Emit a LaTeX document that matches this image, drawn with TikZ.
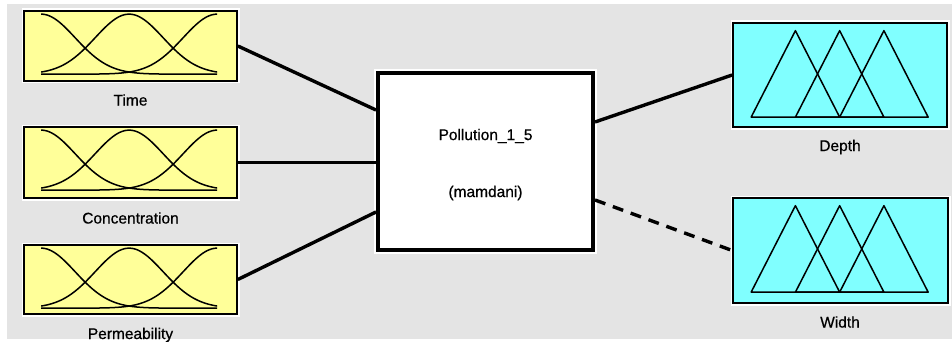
\documentclass[tikz,border=0pt]{standalone}
\usepackage{fontspec}
\setmainfont[FakeBold=0.6]{Liberation Sans}
\usetikzlibrary{calc}
\definecolor{bggray}{HTML}{E4E4E4}
\definecolor{mfyellow}{HTML}{FFFF99}
\definecolor{mfcyan}{HTML}{80FFFF}

\begin{document}
\begin{tikzpicture}[x=1pt,y=-1pt,
  varbox/.style={draw=black, line width=1.7pt,
    preaction={draw=white, line width=5pt}, inner sep=0pt,
    minimum width=213pt},
  inbox/.style={varbox, fill=mfyellow, minimum height=70pt},
  outbox/.style={varbox, fill=mfcyan, minimum width=214pt, minimum height=104pt},
  sysbox/.style={draw=black, fill=white, line width=4pt,
    preaction={draw=white, line width=8pt},
    minimum width=215pt, minimum height=177pt, inner sep=0pt},
  lbl/.style={font=\fontsize{15.5}{18}\selectfont, inner sep=0pt},
  mf/.style={line width=1.5pt, line join=round},
  link/.style={line width=3.4pt},
]
% canvas
\useasboundingbox (0,0) rectangle (952,342);
\fill[white] (0,0) rectangle (952,342);
\fill[bggray] (7,4) rectangle (952,339);

% input variables
\node[inbox] (time) at (130.5,46) {};
\node[inbox, minimum height=71pt] (conc) at (130.5,162.5) {};
\node[inbox, minimum height=69pt] (perm) at (130.5,279.5) {};
% fuzzy inference system
\node[sysbox] (sys) at (485.5,161.5) {};
% output variables
\node[outbox] (depth) at (840,75) {};
\node[outbox, minimum height=105pt, minimum width=215pt] (width) at (840.5,250.5) {};

% labels
\node[lbl] (timelbl) at (130.5,100) {Time};
\node[lbl] (conclbl) at (130.5,218) {Concentration};
\node[lbl] (permlbl) at (130.5,335) {Permeability};
\node[lbl] (depthlbl) at (840,147) {Depth};
\node[lbl] (widthlbl) at (840,322) {Width};
\node[lbl] (sysname) at (485.5,136) {Pollution\_1\_5};
\node[lbl] (systype) at (485.5,193) {(mamdani)};

% gaussian membership functions of the inputs
\foreach \b in {time,conc,perm} {
  \begin{scope}[shift={(\b.north west)}]
    \foreach \cx in {18,106,194}
      \draw[mf] plot[domain=18:194, samples=90, smooth]
        (\x, {64-60*exp(-0.5*((\x-\cx)/34)^2)});
  \end{scope}
}

% triangular membership functions of the outputs
\foreach \b in {depth,width} {
  \begin{scope}[shift={(\b.north west)}]
    \draw[mf] (19,95) -- (63.25,8.5) -- (107.5,95) -- cycle;
    \draw[mf] (63.25,95) -- (107.5,8.5) -- (151.75,95) -- cycle;
    \draw[mf] (107.5,95) -- (151.75,8.5) -- (196,95) -- cycle;
  \end{scope}
}

% connections
\draw[link] (time.east) -- ($(sys.west)+(0,-51.5)$);
\draw[link] (conc.east) -- (conc.east -| sys.west);
\draw[link] (perm.east) -- ($(sys.west)+(0,50.5)$);
\draw[link] ($(sys.east)+(0,-39.5)$) -- (depth.west);
\draw[link, dash pattern=on 11pt off 8pt] ($(sys.east)+(0,38.5)$) -- (width.west);
\end{tikzpicture}
\end{document}
